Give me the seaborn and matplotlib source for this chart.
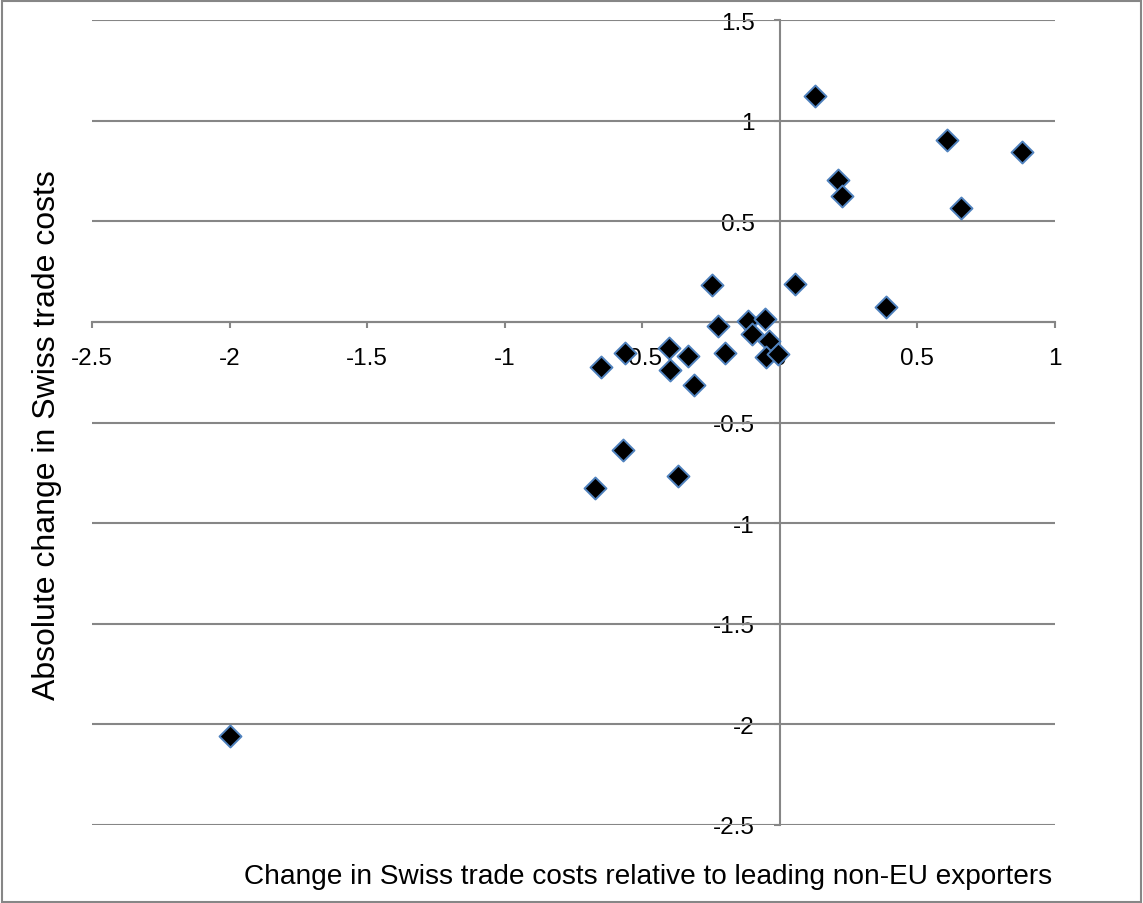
import matplotlib
matplotlib.use("Agg")
import matplotlib.pyplot as plt
from matplotlib.patches import Rectangle
import seaborn as sns
import pandas as pd

# Change in Swiss trade costs relative to leading non-EU exporters
rel_change = [-1.999, -0.672, -0.571, -0.369, -0.650, -0.563, -0.402, -0.400,
              -0.333, -0.312, -0.248, -0.224, -0.200, -0.115, -0.103, -0.054,
              -0.039, -0.051, -0.006, 0.055, 0.128, 0.212, 0.225, 0.385,
              0.609, 0.657, 0.879]
# Absolute change in Swiss trade costs
abs_change = [-2.056, -0.827, -0.635, -0.767, -0.226, -0.156, -0.130, -0.237,
              -0.168, -0.312, 0.183, -0.022, -0.155, 0.006, -0.060, 0.014,
              -0.093, -0.176, -0.160, 0.190, 1.121, 0.705, 0.624, 0.072,
              0.905, 0.564, 0.843]

x_ticks = [-2.5, -2, -1.5, -1, -0.5, 0, 0.5, 1]
y_ticks = [-2.5, -2, -1.5, -1, -0.5, 0, 0.5, 1, 1.5]

sns.set_theme(style="white")
plt.rcParams["font.family"] = ["Liberation Sans", "DejaVu Sans"]
plt.rcParams["text.color"] = "black"
plt.rcParams["xtick.labelcolor"] = "black"
plt.rcParams["ytick.labelcolor"] = "black"

df = pd.DataFrame({"rel": rel_change, "abs": abs_change})

grey = "#868686"
fig = plt.figure(figsize=(11.43, 9.04), dpi=100)
ax = fig.add_axes([92 / 1143, 1 - 826 / 904, (1055 - 92) / 1143, (826 - 21) / 904])

sns.scatterplot(data=df, x="rel", y="abs", marker="D", s=125, color="black",
                edgecolor="#4F81BD", linewidth=1.4, ax=ax, zorder=5, clip_on=False)

ax.set_xlim(-2.5, 1)
ax.set_ylim(-2.5, 1.5)
ax.set_xticks(x_ticks)
ax.set_yticks(y_ticks)
ax.set_xticklabels([f"{v:g}" for v in x_ticks])
ax.set_yticklabels([f"{v:g}" for v in y_ticks])

# horizontal grid only
for v in y_ticks:
    ax.axhline(v, color=grey, linewidth=1.5, zorder=1)

# axes crossing at the origin
for side in ("top", "right"):
    ax.spines[side].set_visible(False)
ax.spines["left"].set_position(("data", 0))
ax.spines["bottom"].set_position(("data", 0))
for side in ("left", "bottom"):
    ax.spines[side].set_color(grey)
    ax.spines[side].set_linewidth(1.5)
    ax.spines[side].set_zorder(2)

ax.tick_params(axis="x", direction="out", length=4, width=1.5, color=grey,
               labelsize=17.5, pad=14, bottom=True, labelcolor="black")
ax.tick_params(axis="y", direction="out", length=4, width=1.5, color=grey,
               labelsize=17.5, pad=14, left=True, labelcolor="black")

ax.set_xlabel("")
ax.set_ylabel("")
fig.text(1052 / 1143, 1 - 877 / 904, "Change in Swiss trade costs relative to leading non-EU exporters",
         ha="right", va="center", fontsize=20.2, color="black")
fig.text(47 / 1143, 1 - 435 / 904, "Absolute change in Swiss trade costs",
         ha="center", va="center", rotation=90, fontsize=23, color="black")

# chart frame
fig.patches.append(Rectangle((2 / 1143, 1 / 904), 1139 / 1143, 901 / 904,
                             transform=fig.transFigure, fill=False,
                             edgecolor=grey, linewidth=1.5))

fig.savefig("out.png", dpi=100)
